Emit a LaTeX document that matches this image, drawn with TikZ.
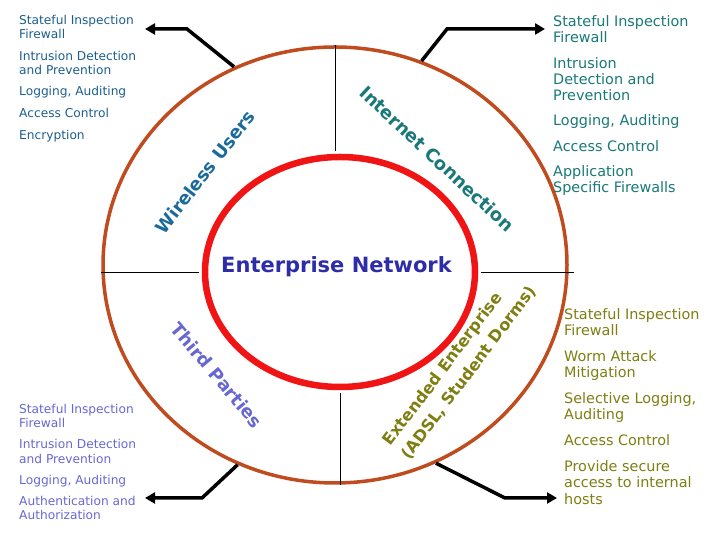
\documentclass[tikz,border=0pt]{standalone}
\usepackage{fontspec}
\setmainfont{DejaVu Sans}
\usetikzlibrary{arrows.meta,positioning,shapes.geometric,calc}
\definecolor{ringbrown}{HTML}{BF4B1F}
\definecolor{ringred}{HTML}{F01414}
\definecolor{wlblue}{HTML}{1B5E8E}
\definecolor{wltitle}{HTML}{1A6A9C}
\definecolor{netteal}{HTML}{1A7878}
\definecolor{tpslate}{HTML}{6767D2}
\definecolor{exolive}{HTML}{7E7E12}
\definecolor{entblue}{HTML}{2D2DA8}

\begin{document}
\begin{tikzpicture}[
    x=1pt,y=1pt,
    ring/.style={ellipse,draw=#1,inner sep=0pt},
    list/.style={align=left,anchor=north west,inner sep=0pt,text=#1},
    leftlist/.style={list=#1,font=\fontsize{12.2}{14.2}\selectfont},
    rightlist/.style={list=#1,font=\fontsize{14.4}{16.4}\selectfont},
    zone/.style={font=\bfseries\fontsize{18}{20}\selectfont,text=#1,inner sep=0pt},
    divider/.style={black,line width=0.8pt},
    arr/.style={-{Triangle[length=10pt,width=11pt]},line width=3.5pt,black}
]
\useasboundingbox (0,0) rectangle (720,540);

% rings
\node[ring=ringbrown,line width=3.5pt,minimum width=464pt,minimum height=436pt] (outer) at (335,275) {};
\node[ring=ringred,line width=6.5pt,minimum width=270pt,minimum height=230pt] (inner) at (340,268) {};

\draw[divider,shorten >=3pt] (outer.north) -- (outer.north |- inner.north);
\draw[divider,shorten <=3pt] (inner.west) -- (inner.west -| outer.west);
\draw[divider,shorten <=3pt,shorten >=-5pt] (inner.east) -- (inner.east -| outer.east);
\draw[divider,shorten <=3pt] (inner.south) -- (inner.south |- outer.south);

% zone titles
\node[font=\bfseries\fontsize{21}{24}\selectfont,text=entblue,anchor=base] (entnet) at (336.5,267) {Enterprise Network};
\node[zone=wltitle,rotate=52] (wireless) at (205,368) {Wireless Users};
\node[zone=netteal,rotate=-43] (internet) at (437,381) {Internet Connection};
\node[zone=tpslate,rotate=-50] (third) at (217,165) {Third Parties};
\node[zone=exolive,rotate=53,align=left,font=\bfseries\fontsize{16.2}{23}\selectfont] (extended) at (460,174) {Extended Enterprise\\(ADSL, Student Dorms)};

% lists
\node[leftlist=wlblue] (wltext) at (19,525.3) {Stateful Inspection\\Firewall\\[7.5pt]Intrusion Detection\\and Prevention\\[7.5pt]Logging, Auditing\\[7.5pt]Access Control\\[7.5pt]Encryption};
\node[rightlist=netteal] (nettext) at (553,524.6) {Stateful Inspection\\Firewall\\[8.7pt]Intrusion\\Detection and\\Prevention\\[8.7pt]Logging, Auditing\\[8.7pt]Access Control\\[8.7pt]Application\\Specific Firewalls};
\node[leftlist=tpslate,font=\fontsize{12.2}{14.5}\selectfont] (tptext) at (19,136.3) {Stateful Inspection\\Firewall\\[6.5pt]Intrusion Detection\\and Prevention\\[6.5pt]Logging, Auditing\\[6.5pt]Authentication and\\Authorization};
\node[rightlist=exolive] (extext) at (564,231.9) {Stateful Inspection\\Firewall\\[9.3pt]Worm Attack\\Mitigation\\[9.3pt]Selective Logging,\\Auditing\\[9.3pt]Access Control\\[9.3pt]Provide secure\\access to internal\\hosts};

% pointers
\coordinate (wltip) at (145,511);
\coordinate (nettip) at (545,511);
\coordinate (tptip) at (145,42);
\coordinate (extip) at (557,42);
\draw[arr] (outer.117) -- ($(wltip)+(42,0)$) -- (wltip);
\draw[arr] (outer.67) -- ($(nettip)+(-98,0)$) -- (nettip);
\draw[arr] (outer.244) -- ($(tptip)+(57,0)$) -- (tptip);
\draw[arr] (outer.297) -- ($(extip)+(-52,0)$) -- (extip);
\end{tikzpicture}
\end{document}
